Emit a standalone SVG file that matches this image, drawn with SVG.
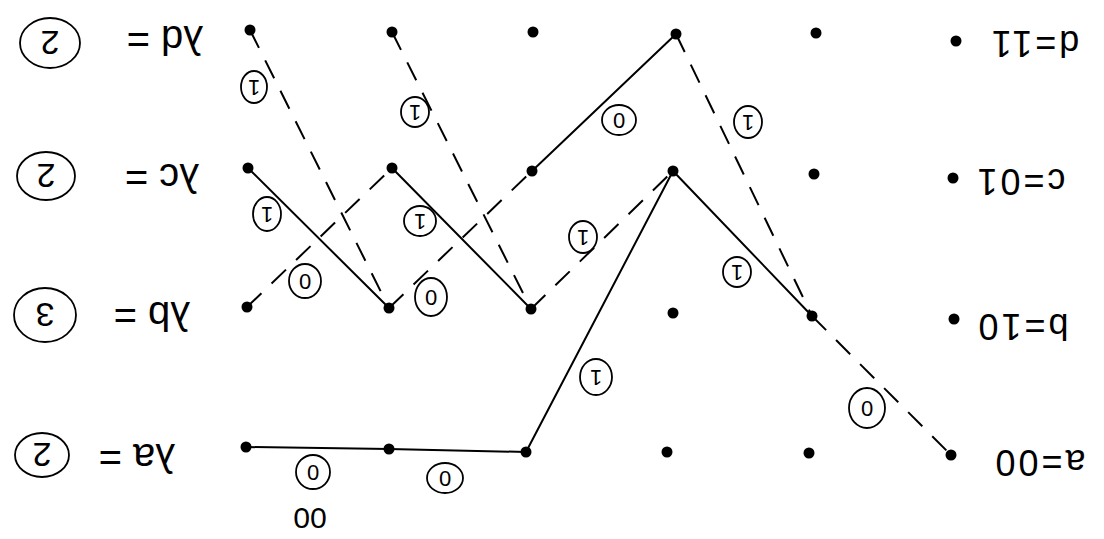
<svg xmlns="http://www.w3.org/2000/svg" width="1104" height="539" viewBox="0 0 1104 539">
<style>
.dot{fill:#000}
.s{stroke:#000;stroke-width:2;fill:none;stroke-linecap:round}
.d{stroke:#000;stroke-width:2;fill:none;stroke-dasharray:20 14}
.c{stroke:#000;stroke-width:1.8;fill:none}
.t{font-family:"Liberation Sans","DejaVu Sans",sans-serif;fill:#000;text-anchor:middle;dominant-baseline:central}
.big{font-size:40px}
.rt{font-size:36px;letter-spacing:3px}
.num{font-size:22px}
.cn{font-size:34px}
</style>
<rect width="1104" height="539" fill="#fff"/>
<g id="connectors">
<line class="s" x1="248" y1="168" x2="389" y2="308"/>
<line class="s" x1="392" y1="168" x2="531" y2="309"/>
<line class="s" x1="532" y1="171" x2="676" y2="34"/>
<polyline class="s" points="246,447 389,449 526,452"/>
<line class="s" x1="526" y1="452" x2="673" y2="171"/>
<line class="s" x1="673" y1="171" x2="812" y2="316"/>
<line class="d" x1="250" y1="30" x2="389" y2="308"/>
<line class="d" x1="392" y1="32" x2="531" y2="309"/>
<line class="d" x1="247" y1="307" x2="392" y2="168"/>
<line class="d" x1="389" y1="308" x2="532" y2="171"/>
<line class="d" x1="531" y1="309" x2="673" y2="171"/>
<line class="d" x1="676" y1="34" x2="812" y2="316"/>
<line class="d" x1="812" y1="316" x2="951" y2="455"/>
</g>
<g id="nodes">
<g id="r1c1"><circle class="dot" cx="250" cy="30" r="5.5"/></g>
<g id="r1c2"><circle class="dot" cx="392" cy="32" r="5.5"/></g>
<g id="r1c3"><circle class="dot" cx="533" cy="32" r="5.5"/></g>
<g id="r1c4"><circle class="dot" cx="676" cy="34" r="5.5"/></g>
<g id="r1c5"><circle class="dot" cx="816" cy="33" r="5.5"/></g>
<g id="r1c6"><circle class="dot" cx="956" cy="41" r="5.5"/></g>
<g id="r2c1"><circle class="dot" cx="248" cy="168" r="5.5"/></g>
<g id="r2c2"><circle class="dot" cx="392" cy="168" r="5.5"/></g>
<g id="r2c3"><circle class="dot" cx="532" cy="171" r="5.5"/></g>
<g id="r2c4"><circle class="dot" cx="673" cy="171" r="5.5"/></g>
<g id="r2c5"><circle class="dot" cx="814" cy="174" r="5.5"/></g>
<g id="r2c6"><circle class="dot" cx="953" cy="178" r="5.5"/></g>
<g id="r3c1"><circle class="dot" cx="247" cy="307" r="5.5"/></g>
<g id="r3c2"><circle class="dot" cx="389" cy="308" r="5.5"/></g>
<g id="r3c3"><circle class="dot" cx="531" cy="309" r="5.5"/></g>
<g id="r3c4"><circle class="dot" cx="673" cy="313" r="5.5"/></g>
<g id="r3c5"><circle class="dot" cx="812" cy="316" r="5.5"/></g>
<g id="r3c6"><circle class="dot" cx="954" cy="319" r="5.5"/></g>
<g id="r4c1"><circle class="dot" cx="246" cy="447" r="5.5"/></g>
<g id="r4c2"><circle class="dot" cx="389" cy="449" r="5.5"/></g>
<g id="r4c3"><circle class="dot" cx="526" cy="452" r="5.5"/></g>
<g id="r4c4"><circle class="dot" cx="667" cy="452" r="5.5"/></g>
<g id="r4c5"><circle class="dot" cx="809" cy="453" r="5.5"/></g>
<g id="r4c6"><circle class="dot" cx="951" cy="455" r="5.5"/></g>
</g>
<g id="left-labels">
<g id="ld"><ellipse class="c" cx="50" cy="43" rx="30" ry="25"/><text class="t cn" x="50" y="43" transform="rotate(180 50 43)">2</text><text class="t big" x="165" y="40" transform="rotate(180 165 40)">λd =</text></g>
<g id="lc"><ellipse class="c" cx="46" cy="176" rx="29" ry="24"/><text class="t cn" x="46" y="176" transform="rotate(180 46 176)">2</text><text class="t big" x="162" y="178" transform="rotate(180 162 178)">λc =</text></g>
<g id="lb"><ellipse class="c" cx="45" cy="315" rx="31" ry="27"/><text class="t cn" x="45" y="315" transform="rotate(180 45 315)">3</text><text class="t big" x="152" y="316" transform="rotate(180 152 316)">λb =</text></g>
<g id="la"><ellipse class="c" cx="42" cy="455" rx="27" ry="22"/><text class="t cn" x="42" y="455" transform="rotate(180 42 455)">2</text><text class="t big" x="137" y="458" transform="rotate(180 137 458)">λa =</text></g>
<text class="t" x="310" y="518" transform="rotate(180 310 518)" style="font-size:30px">00</text>
</g>
<g id="right-labels">
<text class="t rt" x="1034" y="43" transform="rotate(180 1034 43)">d=11</text>
<text class="t rt" x="1020" y="181" transform="rotate(180 1020 181)">c=01</text>
<text class="t rt" x="1022" y="326" transform="rotate(180 1022 326)">b=10</text>
<text class="t rt" x="1039" y="462" transform="rotate(180 1039 462)">a=00</text>
</g>
<g id="edge-labels">
<g><ellipse class="c" cx="254" cy="87" rx="13" ry="16"/><text class="t num" x="254" y="87" transform="rotate(180 254 87)">1</text></g>
<g><ellipse class="c" cx="267" cy="214" rx="14" ry="17"/><text class="t num" x="267" y="214" transform="rotate(180 267 214)">1</text></g>
<g><ellipse class="c" cx="305" cy="281" rx="16" ry="17"/><text class="t num" x="305" y="281" transform="rotate(180 305 281)">0</text></g>
<g><ellipse class="c" cx="415" cy="112" rx="14" ry="15"/><text class="t num" x="415" y="112" transform="rotate(180 415 112)">1</text></g>
<g><ellipse class="c" cx="420" cy="221" rx="16" ry="15"/><text class="t num" x="420" y="221" transform="rotate(180 420 221)">1</text></g>
<g><ellipse class="c" cx="431" cy="297" rx="16" ry="19"/><text class="t num" x="431" y="297" transform="rotate(180 431 297)">0</text></g>
<g><ellipse class="c" cx="619" cy="120" rx="17" ry="15"/><text class="t num" x="619" y="120" transform="rotate(180 619 120)">0</text></g>
<g><ellipse class="c" cx="583" cy="237" rx="14" ry="16"/><text class="t num" x="583" y="237" transform="rotate(180 583 237)">1</text></g>
<g><ellipse class="c" cx="748" cy="122" rx="14" ry="16"/><text class="t num" x="748" y="122" transform="rotate(180 748 122)">1</text></g>
<g><ellipse class="c" cx="737" cy="272" rx="14" ry="15"/><text class="t num" x="737" y="272" transform="rotate(180 737 272)">1</text></g>
<g><ellipse class="c" cx="596" cy="377" rx="16" ry="18"/><text class="t num" x="596" y="377" transform="rotate(180 596 377)">1</text></g>
<g><ellipse class="c" cx="313" cy="472" rx="17" ry="17"/><text class="t num" x="313" y="472" transform="rotate(180 313 472)">0</text></g>
<g><ellipse class="c" cx="445" cy="478" rx="18" ry="15"/><text class="t num" x="445" y="478" transform="rotate(180 445 478)">0</text></g>
<g><ellipse class="c" cx="867" cy="408" rx="18" ry="20"/><text class="t num" x="867" y="408" transform="rotate(180 867 408)">0</text></g>
</g>
</svg>
